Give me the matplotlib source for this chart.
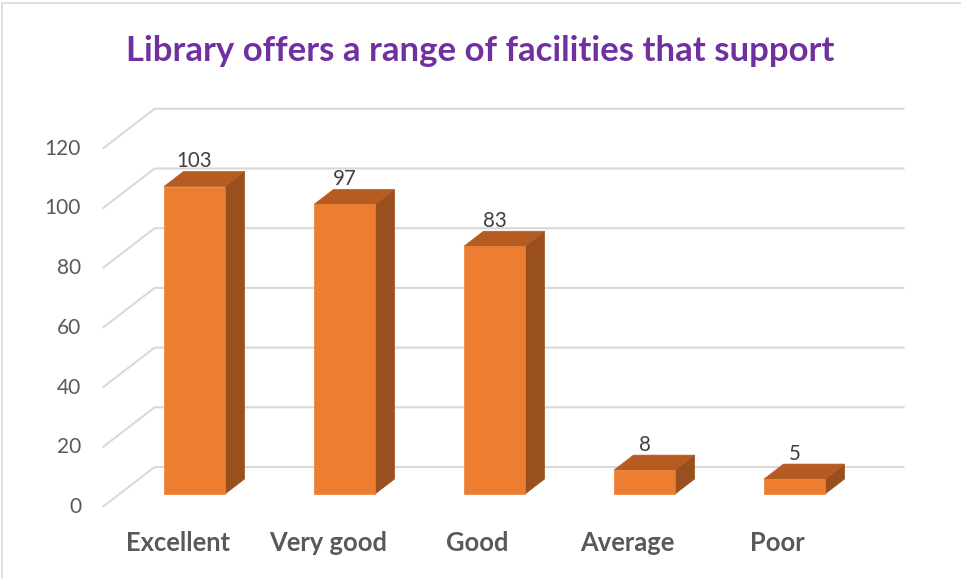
import matplotlib
matplotlib.use("Agg")
import matplotlib.pyplot as plt
from matplotlib.patches import Polygon
from matplotlib.lines import Line2D

categories = ["Excellent", "Very good", "Good", "Average", "Poor"]
values = [103, 97, 83, 8, 5]
y_ticks = [0, 20, 40, 60, 80, 100, 120]
title = "Library offers a range of facilities that support"

FONT = "Lato"
W, H = 961, 578
fig = plt.figure(figsize=(W / 100, H / 100), dpi=100)

# pixel geometry of the 3-D frame
PX_X = 150.0     # px per category
PX_Y = 2.985     # px per value unit
x0_px = 177.6    # front-plane centre of first category
y0_px = 507.0    # front-plane zero (from top)
DX = 52.0 / PX_X
DY = 40.0 / PX_Y
xlim = (-0.55, 4.9)
ylim = (-3, 136)
left = x0_px + xlim[0] * PX_X
right = x0_px + xlim[1] * PX_X
top = y0_px - ylim[1] * PX_Y
bottom = y0_px - ylim[0] * PX_Y
ax = fig.add_axes([left / W, 1 - bottom / H, (right - left) / W, (bottom - top) / H])
ax.set_xlim(xlim)
ax.set_ylim(ylim)
ax.axis("off")


def proj(x, y, d):
    return (x + d * DX, y + d * DY)


n = len(categories)
xl, xr = -0.5, n - 0.5
grid_c = "#D9D9D9"
for t in y_ticks:
    p0 = proj(xl, t, 0)
    p1 = proj(xl, t, 1)
    p2 = proj(xr, t, 1)
    ax.plot([p0[0], p1[0], p2[0]], [p0[1], p1[1], p2[1]], color=grid_c, lw=1.5,
            solid_capstyle="butt", zorder=1)
    ax.annotate(str(t), xy=p0, xytext=(-15.5, 0), textcoords="offset points",
                ha="right", va="center", fontsize=15, color="#595959", family=FONT)

w = 0.407
d0, d1 = 0.325, 0.70
front_c, top_c, side_c = "#ED7D31", "#B65C22", "#9A4F1E"
for i, (cat, v) in enumerate(zip(categories, values)):
    a, b = i - w / 2, i + w / 2
    front = [proj(a, 0, d0), proj(b, 0, d0), proj(b, v, d0), proj(a, v, d0)]
    side = [proj(b, 0, d0), proj(b, 0, d1), proj(b, v, d1), proj(b, v, d0)]
    topf = [proj(a, v, d0), proj(b, v, d0), proj(b, v, d1), proj(a, v, d1)]
    for poly, c in ((side, side_c), (topf, top_c), (front, front_c)):
        ax.add_patch(Polygon(poly, closed=True, facecolor=c, edgecolor=c, lw=0.5, zorder=3))
    lx = proj(i, v, d0)[0]
    ly = proj(i, v, d1)[1]
    ax.annotate(str(v), xy=(lx, ly), xytext=(0, 3), textcoords="offset points",
                ha="center", va="baseline", fontsize=14.8, color="#404040", family=FONT)
    ax.annotate(cat, xy=(i, 0), xytext=(0, -31.7), textcoords="offset points",
                ha="center", va="baseline", fontsize=18.4, fontweight="bold",
                color="#595959", family=FONT)

fig.text(0.5, 1 - 61 / H, title, ha="center", va="baseline", fontsize=25,
         fontweight="bold", color="#7030A0", family=FONT)

# chart border (top and left visible)
fig.add_artist(Line2D([2 / W, 1], [1 - 3 / H, 1 - 3 / H], color="#D9D9D9", lw=1.2,
                      transform=fig.transFigure))
fig.add_artist(Line2D([2 / W, 2 / W], [0, 1 - 3 / H], color="#D9D9D9", lw=1.2,
                      transform=fig.transFigure))

fig.savefig("out.png", dpi=100)
